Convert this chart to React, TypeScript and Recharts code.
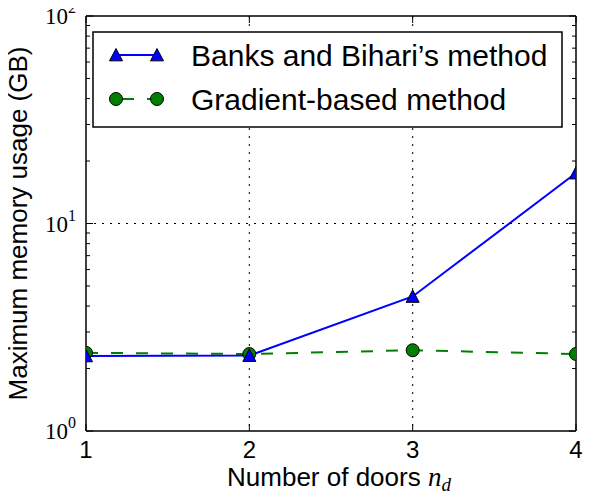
import React from 'react';
import { LineChart, Line, XAxis, YAxis, CartesianGrid } from 'recharts';

const doors = [1, 2, 3, 4];
const banksGB = [2.3, 2.31, 4.45, 17.5];
const gradientGB = [2.38, 2.35, 2.45, 2.35];
const xTicks = [1, 2, 3, 4];
const yMajor = [1, 10, 100];
const yMinor = [2, 3, 4, 5, 6, 7, 8, 9, 20, 30, 40, 50, 60, 70, 80, 90];
const yTicks = [...yMajor, ...yMinor].sort((a, b) => a - b);
const exponents: Record<number, string> = { 1: '0', 10: '1', 100: '2' };
const seriesNames = ["Banks and Bihari\u2019s method", 'Gradient-based method'];

const data = doors.map((d, i) => ({ doors: d, banks: banksGB[i], gradient: gradientGB[i] }));

const SANS = '"Liberation Sans", Arial, sans-serif';
const SERIF = '"Liberation Serif", "Times New Roman", serif';

const LeftTick = (props: any) => {
  const { x, y, payload } = props;
  const v = payload.value;
  const major = exponents[v] !== undefined;
  return (
    <g>
      <line x1={x} x2={x + (major ? 7 : 4)} y1={y} y2={y} stroke="#000" strokeWidth={1} />
      {major && (
        <text x={x - 10} y={y + 8} textAnchor="end" fontFamily={SERIF} fontSize={23} fill="#000">
          10<tspan dy={-11} fontSize={16}>{exponents[v]}</tspan>
        </text>
      )}
    </g>
  );
};

const RightTick = (props: any) => {
  const { x, y, payload } = props;
  const major = exponents[payload.value] !== undefined;
  return <line x1={x} x2={x - (major ? 7 : 4)} y1={y} y2={y} stroke="#000" strokeWidth={1} />;
};

const BottomTick = (props: any) => {
  const { x, y, payload } = props;
  return (
    <g>
      <line x1={x} x2={x} y1={y} y2={y - 7} stroke="#000" strokeWidth={1} />
      <text x={x} y={y + 27} textAnchor="middle" fontFamily={SANS} fontSize={24} fill="#000">
        {payload.value}
      </text>
    </g>
  );
};

const TopTick = (props: any) => {
  const { x, y } = props;
  return <line x1={x} x2={x} y1={y} y2={y + 7} stroke="#000" strokeWidth={1} />;
};

const Triangle = (props: any) => {
  const { cx, cy } = props;
  if (cx == null || cy == null) return null;
  const s = 6.5;
  return (
    <polygon
      key={`t-${cx}`}
      points={`${cx},${cy - s} ${cx - s},${cy + s * 0.9} ${cx + s},${cy + s * 0.9}`}
      fill="#0000ff"
      stroke="#000"
      strokeWidth={1}
    />
  );
};

const Circle = (props: any) => {
  const { cx, cy } = props;
  if (cx == null || cy == null) return null;
  return <circle key={`c-${cx}`} cx={cx} cy={cy} r={6.5} fill="#008000" stroke="#000" strokeWidth={1} />;
};

const XLabel = (props: any) => {
  const vb = props.viewBox || {};
  const cx = vb.x + vb.width / 2;
  return (
    <text x={cx + 8} y={vb.y + 55} textAnchor="middle" fontFamily={SANS} fontSize={26} fill="#000">
      Number of doors{' '}
      <tspan fontFamily={SERIF} fontStyle="italic" fontSize={27}>n</tspan>
      <tspan fontFamily={SERIF} fontStyle="italic" fontSize={19} dy={5}>d</tspan>
    </text>
  );
};

const YLabel = (props: any) => {
  const vb = props.viewBox || {};
  const cy = vb.y + vb.height / 2;
  const x = 18;
  return (
    <text x={x} y={cy} transform={`rotate(-90 ${x} ${cy})`} textAnchor="middle" dominantBaseline="central" fontFamily={SANS} fontSize={26} fill="#000">
      Maximum memory usage (GB)
    </text>
  );
};

const LegendBox = () => (
  <svg width={472} height={98} style={{ position: 'absolute', left: 92, top: 31 }}>
    <rect x={1} y={1} width={469} height={95} fill="#fff" stroke="#000" strokeWidth={1.5} />
    <line x1={24} x2={65} y1={24} y2={24} stroke="#0000ff" strokeWidth={2} />
    <Triangle cx={24} cy={24} />
    <Triangle cx={65} cy={24} />
    <text x={99} y={35} fontFamily={SANS} fontSize={30} fill="#000">{seriesNames[0]}</text>
    <line x1={24} x2={65} y1={68} y2={68} stroke="#008000" strokeWidth={2} strokeDasharray="12 13" strokeDashoffset={-6} />
    <Circle cx={24} cy={68} />
    <Circle cx={65} cy={68} />
    <text x={99} y={79} fontFamily={SANS} fontSize={30} fill="#000">{seriesNames[1]}</text>
  </svg>
);

export default function App() {
  return (
    <div style={{ position: 'relative', width: 598, height: 500, margin: -8 }}>
      <LineChart width={598} height={500} data={data} margin={{ top: 0, right: 0, bottom: 0, left: 0 }}>
        <CartesianGrid
          xAxisId="b"
          yAxisId="l"
          horizontalValues={[10]}
          verticalValues={[2, 3]}
          stroke="#000"
          strokeDasharray="2 6"
          strokeWidth={1}
        />
        <XAxis
          xAxisId="b"
          dataKey="doors"
          type="number"
          domain={[1, 4]}
          ticks={xTicks}
          allowDataOverflow
          orientation="bottom"
          height={69}
          tickSize={0}
          tickMargin={0}
          tick={<BottomTick />}
          axisLine={{ stroke: '#000', strokeWidth: 1.5 }}
          tickLine={false}
          interval={0}
          label={<XLabel />}
        />
        <XAxis
          xAxisId="t"
          dataKey="doors"
          type="number"
          domain={[1, 4]}
          ticks={xTicks}
          allowDataOverflow
          orientation="top"
          height={16}
          tickSize={0}
          tickMargin={0}
          tick={<TopTick />}
          axisLine={{ stroke: '#000', strokeWidth: 1.5 }}
          tickLine={false}
          interval={0}
        />
        <YAxis
          yAxisId="l"
          scale="log"
          type="number"
          domain={[1, 100]}
          ticks={yTicks}
          allowDataOverflow
          orientation="left"
          width={86}
          tickSize={0}
          tickMargin={0}
          tick={<LeftTick />}
          axisLine={{ stroke: '#000', strokeWidth: 1.5 }}
          tickLine={false}
          interval={0}
          label={<YLabel />}
        />
        <YAxis
          yAxisId="r"
          scale="log"
          type="number"
          domain={[1, 100]}
          ticks={yTicks}
          allowDataOverflow
          orientation="right"
          width={22}
          tickSize={0}
          tickMargin={0}
          tick={<RightTick />}
          axisLine={{ stroke: '#000', strokeWidth: 1.5 }}
          tickLine={false}
          interval={0}
        />
        <Line
          xAxisId="b"
          yAxisId="l"
          dataKey="gradient"
          stroke="#008000"
          strokeWidth={2}
          strokeDasharray="12 13"
          dot={<Circle />}
          isAnimationActive={false}
        />
        <Line
          xAxisId="b"
          yAxisId="l"
          dataKey="banks"
          stroke="#0000ff"
          strokeWidth={2}
          dot={<Triangle />}
          isAnimationActive={false}
        />
      </LineChart>
      <LegendBox />
    </div>
  );
}
